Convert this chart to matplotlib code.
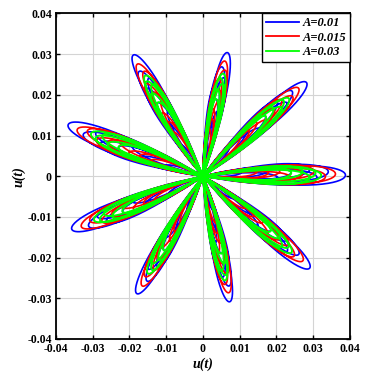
import matplotlib
matplotlib.use('Agg')
import matplotlib.pyplot as plt
import numpy as np

# petal directions (deg) and outer tip length of the A=0.01 curve
petal_angle_deg = [0.4, 39.2, 77.6, 122.5, 161.0, 200.0, 238.0, 283.3, 322.2]
petal_length = [0.0388, 0.0364, 0.0311, 0.0353, 0.0388, 0.0380, 0.0340, 0.0317, 0.0368]

# nested loops inside each petal: size relative to the outer tip and small turn (deg)
blue_loop_scale = [1.00, 0.88, 0.80, 0.75, 0.62, 0.53, 0.45, 0.27]
blue_loop_turn = [0.0, 1.5, -1.0, 3.0, 2.0, -2.0, 4.0, 5.0]
red_loop_scale = [0.93, 0.86, 0.78, 0.70, 0.62, 0.54, 0.46, 0.38]
red_loop_turn = [0.5, -0.5, 2.0, 1.0, -1.5, 3.0, 2.5, 4.0]
green_loop_scale = [0.83, 0.79, 0.75, 0.70, 0.62]
green_loop_turn = [0.0, 1.0, -1.0, 2.0, 1.5]

series_labels = ['A=0.01', 'A=0.015', 'A=0.03']
series_colors = ['#0000ff', '#ff0000', '#00ff00']

tick_values = [-0.04, -0.03, -0.02, -0.01, 0, 0.01, 0.02, 0.03, 0.04]
tick_labels = ['-0.04', '-0.03', '-0.02', '-0.01', '0', '0.01', '0.02', '0.03', '0.04']


def trace(scales, turns):
    # one lobe per petal: narrow at the origin, full near the tip
    half = 0.12
    s = np.linspace(-half, half, 90)
    shape = np.cos(np.pi / 2 * s / half).clip(0) ** 0.4
    xs, ys = [], []
    for k, tw in zip(scales, turns):
        for ang, L in zip(petal_angle_deg, petal_length):
            r = L * k * shape
            th = np.radians(ang + tw) + s
            xs.append(r * np.cos(th))
            ys.append(r * np.sin(th))
    return np.concatenate(xs), np.concatenate(ys)


fig = plt.figure(figsize=(3.73, 3.85), dpi=100)
ax = fig.add_axes([0.150, 0.1195, 0.788, 0.8455])

curves = [trace(blue_loop_scale, blue_loop_turn),
          trace(red_loop_scale, red_loop_turn),
          trace(green_loop_scale, green_loop_turn)]
widths = [1.2, 1.2, 1.4]
for (x, y), c, lab, lw in zip(curves, series_colors, series_labels, widths):
    ax.plot(x, y, color=c, linewidth=lw, label=lab)

ax.set_xlim(-0.04, 0.04)
ax.set_ylim(-0.04, 0.04)
ax.set_xticks(tick_values)
ax.set_yticks(tick_values)
tick_font = dict(family='Liberation Serif', weight='bold', size=8.5)
ax.set_xticklabels(tick_labels, fontdict=tick_font)
ax.set_yticklabels(tick_labels, fontdict=tick_font)
ax.tick_params(direction='in', length=3, width=1.0, top=True, right=True, pad=3)

ax.grid(True, color='#d4d4d4', linewidth=0.8)
ax.set_axisbelow(True)
for sp in ax.spines.values():
    sp.set_linewidth(1.3)

label_font = dict(family='Liberation Serif', weight='bold', style='italic', size=10)
ax.set_xlabel('u(t)', fontdict=label_font, labelpad=2)
ax.set_ylabel('u(t)', fontdict=label_font, labelpad=1)

leg = ax.legend(loc='upper right', borderaxespad=0, handlelength=2.6,
                prop=dict(family='Liberation Serif', weight='bold', style='italic', size=9),
                fancybox=False, framealpha=1, edgecolor='black',
                borderpad=0.3, labelspacing=0.2, handletextpad=0.3)
leg.get_frame().set_linewidth(1.0)
for h in leg.get_lines():
    h.set_linewidth(1.3)

fig.savefig('out.png', dpi=100)
